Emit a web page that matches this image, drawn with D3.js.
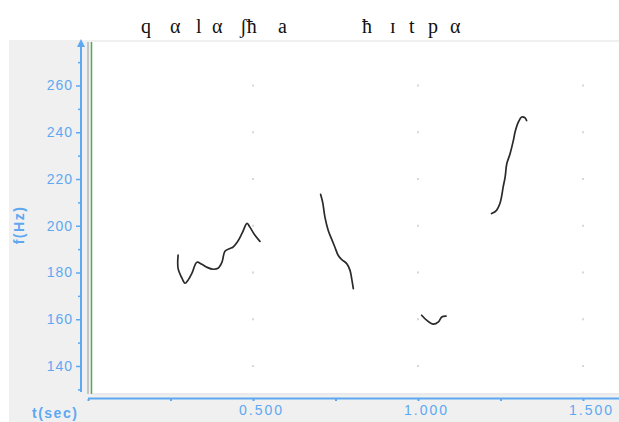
<!DOCTYPE html>
<html>
<head>
<meta charset="utf-8">
<script src="https://d3js.org/d3.v7.min.js"></script>
<style>
  body { margin: 0; background: #fff; }
  text { font-family: "Liberation Sans", Arial, sans-serif; }
</style>
</head>
<body>
<svg width="619" height="422"></svg>
<script>

    // pitch contour segments (time in s, f0 in Hz)
    const seg1T = [0.273, 0.273, 0.285, 0.294, 0.303, 0.315, 0.330, 0.345, 0.361, 0.379, 0.394,
                   0.406, 0.415, 0.430, 0.439, 0.452, 0.467, 0.482, 0.491, 0.506, 0.521];
    const seg1F = [187.4, 181.8, 177.5, 175.4, 176.7, 179.7, 184.4, 183.5, 182.2, 181.4, 181.8,
                   184.4, 189.1, 190.3, 190.8, 192.9, 196.8, 201.0, 199.3, 195.9, 193.3];
    const seg2T = [0.705, 0.711, 0.718, 0.728, 0.738, 0.748, 0.758, 0.769, 0.784, 0.794, 0.799, 0.804];
    const seg2F = [213.4, 210.1, 203.7, 198.0, 194.4, 190.9, 187.4, 185.5, 183.8, 180.9, 177.4, 173.1];
    const seg3T = [1.011, 1.026, 1.046, 1.062, 1.072, 1.085];
    const seg3F = [161.7, 159.6, 157.9, 158.9, 161.0, 161.3];
    const seg4T = [1.223, 1.238, 1.248, 1.253, 1.258, 1.264, 1.269, 1.279, 1.289, 1.294, 1.304,
                   1.314, 1.324, 1.329];
    const seg4F = [205.2, 206.6, 209.4, 212.3, 216.5, 220.8, 226.5, 230.8, 236.5, 240.0, 244.3,
                   246.5, 246.2, 245.0];

    const yTicks = [140, 160, 180, 200, 220, 240, 260];
    const yMinor = [130, 150, 170, 190, 210, 230, 250, 270];
    const xTicks = [0.5, 1.0, 1.5];
    const xMinor = [0, 0.25, 0.75, 1.25];
    // transcription, one entry per letter group
    const titleGlyphs = ["q", "α", "l", "α", "ʃħ", "a", "ħ", "ɪ", "t", "p", "α"];
    const titleX = [141, 170, 196, 212, 240, 278, 362, 390, 409, 428, 450];

    const blue = "#5ea8f2";
    const svg = d3.select("svg");

    // scales
    const x = d3.scaleLinear().domain([0, 1.5]).range([88, 583]);
    const y = d3.scaleLinear().domain([140, 260]).range([366, 85.5]);

    // panels
    svg.append("rect").attr("x", 9).attr("y", 40).attr("width", 610).attr("height", 382).attr("fill", "#f0f0f0");
    svg.append("rect").attr("x", 92).attr("y", 42).attr("width", 527).attr("height", 351).attr("fill", "#fff");
    svg.append("line").attr("x1", 88).attr("x2", 88).attr("y1", 42).attr("y2", 394)
        .attr("stroke", "#c4c4c4").attr("stroke-width", 2);
    svg.append("line").attr("x1", 91.5).attr("x2", 91.5).attr("y1", 42).attr("y2", 394)
        .attr("stroke", "#4cae4c").attr("stroke-width", 1.5);
    svg.append("line").attr("x1", 92).attr("x2", 619).attr("y1", 394).attr("y2", 394)
        .attr("stroke", "#e4e4e4").attr("stroke-width", 1);

    // grid dots
    const dots = [];
    xTicks.forEach(t => yTicks.forEach(f => dots.push([t, f])));
    svg.append("g").selectAll("rect").data(dots).enter().append("rect")
        .attr("x", d => x(d[0]) - 1).attr("y", d => y(d[1]) - 1)
        .attr("width", 2).attr("height", 2).attr("fill", "#d8d8d8");

    // y axis
    const yAxis = svg.append("g").attr("transform", "translate(81,0)")
        .call(d3.axisLeft(y).tickValues(yTicks).tickSize(5).tickSizeOuter(0).tickPadding(3));
    yAxis.select(".domain").remove();
    yAxis.selectAll("line").attr("stroke", blue).attr("stroke-width", 1.5);
    yAxis.selectAll("text").attr("fill", blue).style("font-size", "14px").style("letter-spacing", "1px");
    svg.append("g").attr("transform", "translate(81,0)")
        .call(d3.axisLeft(y).tickValues(yMinor).tickSize(3).tickFormat(""))
        .call(g => g.select(".domain").remove())
        .selectAll("line").attr("stroke", blue).attr("stroke-width", 1.5);
    svg.append("line").attr("x1", 81).attr("x2", 81).attr("y1", 44).attr("y2", 392)
        .attr("stroke", blue).attr("stroke-width", 2);
    svg.append("path").attr("d", "M77,47 L81,39 L85,47 Z").attr("fill", blue);

    // x axis
    const xAxis = svg.append("g").attr("transform", "translate(0,399)")
        .call(d3.axisBottom(x).tickValues(xTicks).tickSize(2).tickPadding(4).tickFormat(d3.format(".3f")));
    xAxis.select(".domain").remove();
    xAxis.selectAll("line").attr("stroke", blue).attr("stroke-width", 2);
    xAxis.selectAll("text").attr("fill", blue).attr("dx", 8)
        .style("font-size", "14px").style("letter-spacing", "2px");
    svg.append("g").attr("transform", "translate(0,399)")
        .call(d3.axisBottom(x).tickValues(xMinor).tickSize(2).tickFormat(""))
        .call(g => g.select(".domain").remove())
        .selectAll("line").attr("stroke", blue).attr("stroke-width", 2);
    svg.append("line").attr("x1", 88).attr("x2", 619).attr("y1", 398.5).attr("y2", 398.5)
        .attr("stroke", blue).attr("stroke-width", 2);

    // axis titles
    svg.append("text").attr("x", 32).attr("y", 418).text("t(sec)")
        .attr("fill", blue).style("font-size", "14px").style("font-weight", "bold").style("letter-spacing", "1.5px");
    svg.append("text").attr("transform", "translate(24,225) rotate(-90)")
        .attr("text-anchor", "middle").text("f(Hz)")
        .attr("fill", blue).style("font-size", "14px").style("font-weight", "bold").style("letter-spacing", "1.5px");

    // title
    svg.append("g").selectAll("text").data(titleGlyphs).enter().append("text")
        .attr("x", (d, i) => titleX[i]).attr("y", 33).text(d => d)
        .style("font-family", "'Liberation Serif', 'DejaVu Serif', serif")
        .style("font-size", "20px").attr("fill", "#111");

    // contours
    const line = d3.line().x(d => x(d[0])).y(d => y(d[1])).curve(d3.curveCatmullRom);
    const segs = [[seg1T, seg1F], [seg2T, seg2F], [seg3T, seg3F], [seg4T, seg4F]]
        .map(s => s[0].map((t, i) => [t, s[1][i]]));
    svg.append("g").selectAll("path").data(segs).enter().append("path")
        .attr("d", line).attr("fill", "none").attr("stroke", "#2a2a2a")
        .attr("stroke-width", 1.7).attr("stroke-linejoin", "round").attr("stroke-linecap", "round");

</script>
</body>
</html>
